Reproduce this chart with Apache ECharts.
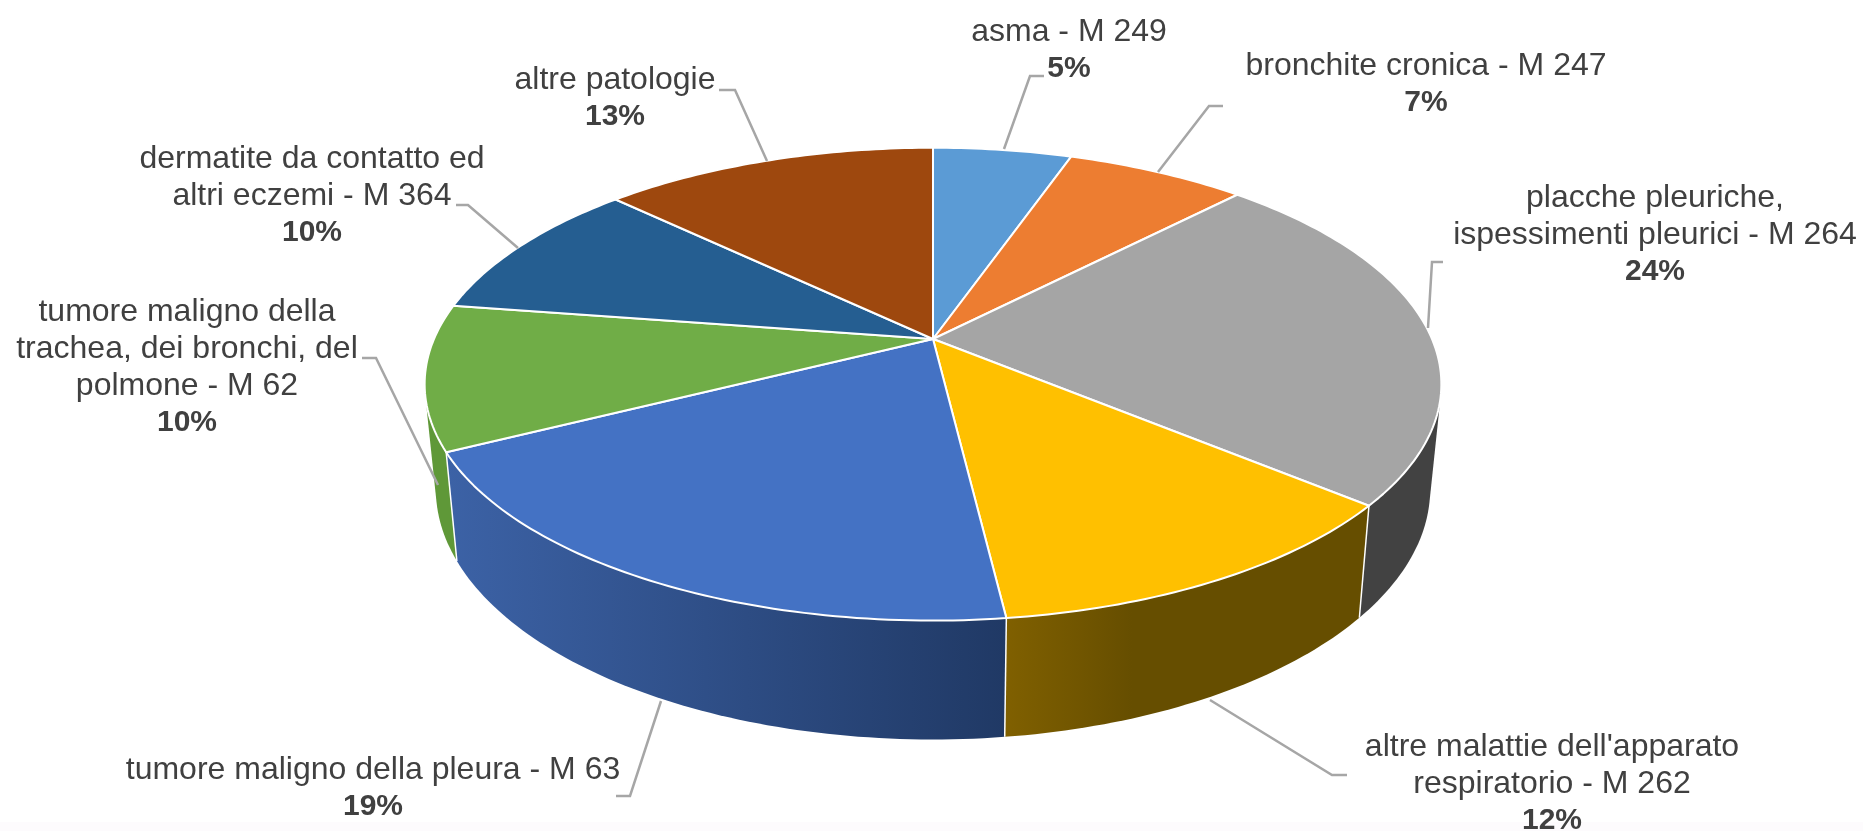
<!DOCTYPE html>
<html>
<head>
<meta charset="utf-8">
<style>
  html, body { margin: 0; padding: 0; background: #fff; }
  #chart { width: 1863px; height: 831px; }
</style>
<script src="https://cdn.jsdelivr.net/npm/echarts@6/dist/echarts.min.js"></script>
</head>
<body>
<div id="chart"></div>
<script>
// dati
const categories = [
  ['asma - M 249'],
  ['bronchite cronica - M 247'],
  ['placche pleuriche,', 'ispessimenti pleurici - M 264'],
  ["altre malattie dell'apparato", 'respiratorio - M 262'],
  ['tumore maligno della pleura - M 63'],
  ['tumore maligno della', 'trachea, dei bronchi, del', 'polmone - M 62'],
  ['dermatite da contatto ed', 'altri eczemi - M 364'],
  ['altre patologie']
];
// stimati dagli angoli delle fette, in etichetta vanno arrotondati
const percentages = [5.3, 6.9, 23.9, 12.0, 19.4, 9.9, 9.8, 12.8];

const topColors = ['#5B9BD5', '#ED7D31', '#A5A5A5', '#FFC000', '#4472C4', '#70AD47', '#255E91', '#9E480E'];
// colori della parete: [sinistra, destra]
const wallColors = [
  ['#3d6f9e', '#3d6f9e'], ['#a85420', '#a85420'], ['#424242', '#424242'], ['#806000', '#664e00'],
  ['#3c62a6', '#203965'], ['#5f9838', '#5f9838'], ['#1a4468', '#1a4468'], ['#6e3209', '#6e3209']
];

// posizione delle etichette: centro x, y della prima riga
const labelPos = [
  [1069, 32], [1426, 66], [1655, 198], [1552, 747],
  [373, 770], [187, 312], [312, 159], [615, 80]
];
// linee guida
const leaderLines = [
  [[1044, 76], [1030, 76], [1004, 149]],
  [[1223, 106], [1209, 106], [1158, 172]],
  [[1443, 262], [1432, 262], [1428, 328]],
  [[1210, 700], [1332, 775], [1347, 775]],
  [[616, 796], [630, 796], [661, 701]],
  [[362, 358], [376, 358], [438, 485]],
  [[456, 205], [468, 205], [518, 248]],
  [[719, 90], [735, 90], [767, 161]]
];

// prospettiva del disco: il centro della torta non coincide col centro dell'ellisse
const CX = 933, CY = 339;
const RX = 499, RY = 227.8, PERSP = -0.191;
const WALL_H = 102, WALL_SX = 0.978, WALL_SY = 1.06;

const total = percentages.reduce((a, b) => a + b, 0);

function rimPoint(deg) {
  const a = deg * Math.PI / 180;
  const u = Math.sin(a), v = -Math.cos(a);
  const w = 1 + PERSP * v;
  return [RX * u / w, RY * v / w];
}
function topPoint(deg) {
  const p = rimPoint(deg);
  return [CX + p[0], CY + p[1]];
}
function bottomPoint(deg) {
  const p = rimPoint(deg);
  return [CX + p[0] * WALL_SX, CY + WALL_H + p[1] * WALL_SY];
}
function sliceAngles(idx) {
  let start = 0;
  for (let i = 0; i < idx; i++) start += percentages[i];
  return [start / total * 360, (start + percentages[idx]) / total * 360];
}
function arc(fn, from, to) {
  const pts = [];
  const n = Math.ceil(Math.abs(to - from));
  for (let i = 0; i <= n; i++) pts.push(fn(from + (to - from) * i / n));
  return pts;
}
function cross(o, a, b) {
  return (a[0] - o[0]) * (b[1] - o[1]) - (a[1] - o[1]) * (b[0] - o[0]);
}
function convexHull(points) {
  const pts = points.slice().sort((a, b) => a[0] - b[0] || a[1] - b[1]);
  const half = list => {
    const out = [];
    list.forEach(p => {
      while (out.length >= 2 && cross(out[out.length - 2], out[out.length - 1], p) <= 0) out.pop();
      out.push(p);
    });
    out.pop();
    return out;
  };
  return half(pts).concat(half(pts.slice().reverse()));
}

// l'inviluppo copre anche il tratto tangente ai lati del disco;
// la parte che sporge verso l'interno finisce sotto la faccia superiore
function renderWall(params, api) {
  const i = params.dataIndex;
  const [a0, a1] = sliceAngles(i);
  const tops = arc(topPoint, a0, a1);
  const bottoms = arc(bottomPoint, a0, a1);
  const hull = convexHull(tops.concat(bottoms, [[CX, CY]]));
  const xs = tops.concat(bottoms).map(p => p[0]);
  const c = wallColors[i];
  const fill = new echarts.graphic.LinearGradient(Math.min.apply(null, xs), 0, Math.max.apply(null, xs), 0, [
    { offset: 0, color: c[0] },
    { offset: i === 3 ? 0.35 : 1, color: c[1] },
    { offset: 1, color: c[1] }
  ], true);
  // giallo e blu davanti, altrimenti grigio e verde ci sporgono sopra
  const front = i === 3 || i === 4;
  return {
    type: 'group',
    children: [{
      type: 'polygon',
      z2: front ? 2 : 1,
      shape: { points: hull },
      style: { fill: fill }
    }, {
      // spigolo bianco fra una fetta e l'altra
      type: 'line',
      z2: 3,
      shape: { x1: tops[0][0], y1: tops[0][1], x2: bottoms[0][0], y2: bottoms[0][1] },
      style: { stroke: '#fff', lineWidth: 1.5 }
    }]
  };
}

function renderTop(params, api) {
  const i = params.dataIndex;
  const [a0, a1] = sliceAngles(i);
  const pts = [[CX, CY]].concat(arc(topPoint, a0, a1));
  return {
    type: 'polygon',
    shape: { points: pts },
    style: { fill: topColors[i], stroke: '#fff', lineWidth: 2, lineJoin: 'round' }
  };
}

function renderLabel(params, api) {
  const i = params.dataIndex;
  const lines = categories[i];
  const [x, y0] = labelPos[i];
  const children = [{
    type: 'polyline',
    shape: { points: leaderLines[i] },
    style: { stroke: '#A6A6A6', lineWidth: 2.5, fill: null }
  }];
  const row = 37;
  lines.forEach((t, k) => {
    children.push({
      type: 'text',
      style: {
        x: x, y: y0 + k * row, text: t, align: 'center', verticalAlign: 'middle',
        font: '32px "Liberation Sans", Arial, sans-serif', fill: '#404040'
      }
    });
  });
  children.push({
    type: 'text',
    style: {
      x: x, y: y0 + lines.length * row, text: Math.round(api.value(0)) + '%', align: 'center', verticalAlign: 'middle',
      font: 'bold 30px "Liberation Sans", Arial, sans-serif', fill: '#404040'
    }
  });
  return { type: 'group', children: children };
}

const chart = echarts.init(document.getElementById('chart'), null, { renderer: 'canvas' });
const seriesData = percentages.map(v => [v]);
chart.setOption({
  animation: false,
  backgroundColor: '#fff',
  graphic: [{
    type: 'rect', z: 0, silent: true,
    shape: { x: 0, y: 822, width: 1863, height: 9 },
    style: { fill: '#fdfbfd' }
  }],
  series: [
    { type: 'custom', coordinateSystem: 'none', renderItem: renderWall, data: seriesData, z: 1, silent: true },
    { type: 'custom', coordinateSystem: 'none', renderItem: renderTop, data: seriesData, z: 2, silent: true },
    { type: 'custom', coordinateSystem: 'none', renderItem: renderLabel, data: seriesData, z: 3, silent: true }
  ]
});
</script>
</body>
</html>
